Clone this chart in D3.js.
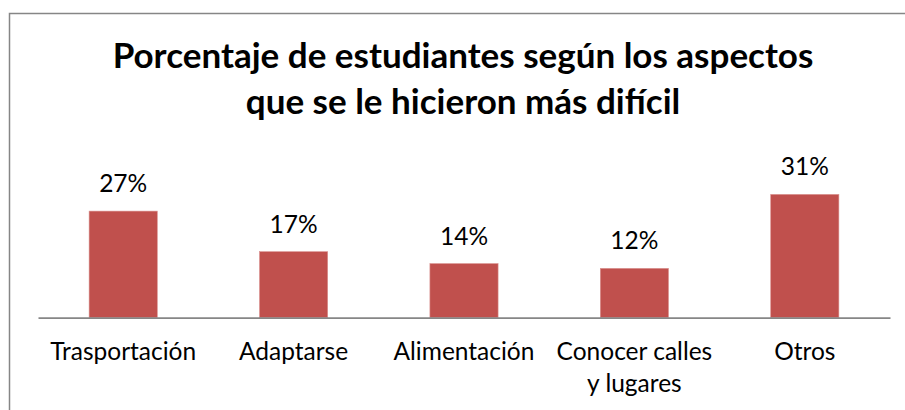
<!DOCTYPE html>
<html>
<head>
<meta charset="utf-8">
<script src="https://cdn.jsdelivr.net/npm/d3@7"></script>
<style>
  body { margin: 0; background: #fff; }
  text { font-family: Lato, "Open Sans", sans-serif; fill: #000; }
</style>
</head>
<body>
<div id="chart"></div>
<script>
const titleLines = ["Porcentaje de estudiantes según los aspectos", "que se le hicieron más difícil"]
const categories = ["Trasportación", "Adaptarse", "Alimentación", "Conocer calles\ny lugares", "Otros"]
const values = [0.268, 0.166, 0.136, 0.124, 0.310]

const width = 905, height = 410

const svg = d3.select("#chart")
    .append("svg")
    .attr("width", width)
    .attr("height", height)

// chart frame (runs off the right and bottom edges)
svg.append("rect")
    .attr("x", 9.5)
    .attr("y", 13.5)
    .attr("width", 910)
    .attr("height", 420)
    .attr("fill", "#fff")
    .attr("stroke", "#868686")
    .attr("stroke-width", 1.5)

/* title */
const title = svg.append("text")
    .attr("text-anchor", "middle")
    .style("font-weight", "bold")
    .style("font-size", "35px")
titleLines.forEach((t, i) => {
    title.append("tspan")
        .attr("x", 463)
        .attr("y", 68 + i * 46)
        .text(t)
})

/* scales */
const x = d3.scaleBand()
    .domain(categories)
    .range([38, 890])
    .paddingInner(0.6)
    .paddingOuter(0.3)

const y = d3.scaleLinear()
    .domain([0, 0.35])
    .range([317.7, 178.5])

/* bars */
svg.selectAll(".bar")
    .data(values)
    .enter()
    .append("rect")
    .attr("class", "bar")
    .attr("x", (d, i) => x(categories[i]))
    .attr("y", d => y(d))
    .attr("width", x.bandwidth())
    .attr("height", d => y(0) - y(d))
    .attr("fill", "#C0504D")
    .attr("stroke", "#d9908e")
    .attr("stroke-width", 0.6)

/* x axis, labels only */
const xAxis = svg.append("g")
    .attr("transform", `translate(0, ${y(0)})`)
    .call(d3.axisBottom(x).tickSize(0).tickFormat(""))
xAxis.select(".domain")
    .attr("stroke", "#868686")
    .attr("stroke-width", 1.8)

const catLabels = svg.selectAll(".cat")
    .data(categories)
    .enter()
    .append("text")
    .attr("class", "cat")
    .attr("text-anchor", "middle")
    .style("font-size", "24.5px")
catLabels.each(function (c) {
    c.split("\n").forEach((line, j) => {
        d3.select(this).append("tspan")
            .attr("x", x(c) + x.bandwidth() / 2)
            .attr("y", 360 + j * 31.5)
            .text(line)
    })
})

/* value labels */
svg.selectAll(".val")
    .data(values)
    .enter()
    .append("text")
    .attr("class", "val")
    .attr("text-anchor", "middle")
    .style("font-size", "24.5px")
    .attr("x", (d, i) => x(categories[i]) + x.bandwidth() / 2)
    .attr("y", d => y(d) - 19)
    .text(d => d3.format(".0%")(d))
</script>
</body>
</html>
